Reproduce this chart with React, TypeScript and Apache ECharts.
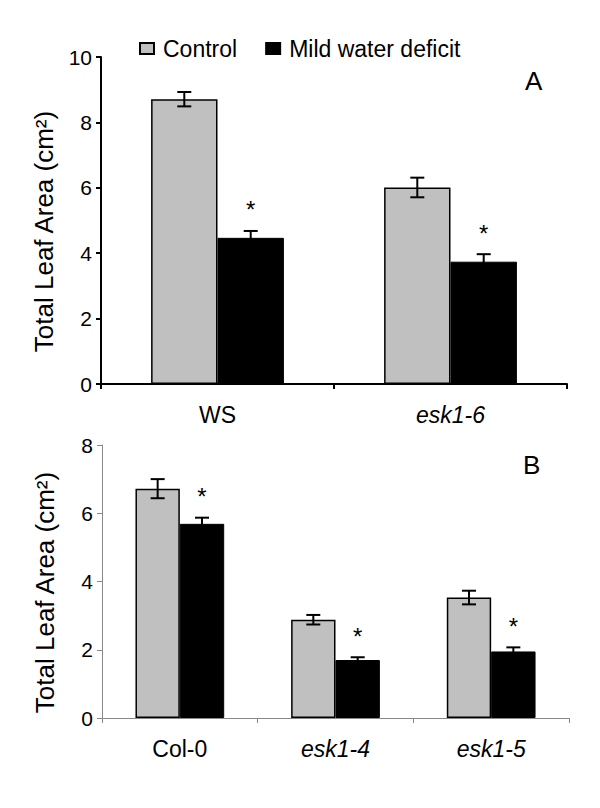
import React, { useEffect, useRef } from "react";
import * as echarts from "echarts";

const catsA = ["WS", "esk1-6"];
const controlA = [8.71, 6.01];
const controlErrA = [0.22, 0.3];
const deficitA = [4.47, 3.74];
const deficitErrA = [0.21, 0.23];
const sigA = [1, 1];

const catsB = ["Col-0", "esk1-4", "esk1-5"];
const controlB = [6.72, 2.88, 3.53];
const controlErrB = [0.28, 0.14, 0.2];
const deficitB = [5.69, 1.7, 1.95];
const deficitErrB = [0.18, 0.08, 0.12];
const sigB = [1, 1, 1];

const italicCats = ["esk1-6", "esk1-4", "esk1-5"];
const FONT = "Liberation Sans, Arial, Helvetica, sans-serif";
const BAR_FRAC = 0.285;

function errSeries(name: string, xIdx: number, vals: number[], errs: number[], sig: number[] | null, side: number) {
  return {
    name,
    type: "custom",
    xAxisIndex: xIdx,
    yAxisIndex: xIdx,
    z: 5,
    silent: true,
    data: vals.map((v, i) => [i, v, errs[i], sig ? sig[i] : 0]),
    renderItem: (params: any, api: any) => {
      const x = api.value(0);
      const v = api.value(1);
      const e = api.value(2);
      const s = api.value(3);
      const c = api.coord([x, v]);
      const catW = api.size([1, 0])[0];
      const bw = catW * BAR_FRAC;
      const cx = c[0] + side * bw / 2;
      const top = api.coord([x, v + e])[1];
      const bot = api.coord([x, v - e])[1];
      const hw = 7;
      const st = { stroke: "#000", lineWidth: 2 };
      const children: any[] = [
        { type: "line", shape: { x1: cx, y1: top, x2: cx, y2: bot }, style: st },
        { type: "line", shape: { x1: cx - hw, y1: top, x2: cx + hw, y2: top }, style: st },
        { type: "line", shape: { x1: cx - hw, y1: bot, x2: cx + hw, y2: bot }, style: st },
      ];
      if (s) {
        children.push({
          type: "text",
          style: {
            text: "*",
            x: cx,
            y: top - 9,
            fill: "#000",
            font: `24px ${FONT}`,
            textAlign: "center",
            textVerticalAlign: "bottom",
          },
        });
      }
      return { type: "group", children };
    },
  };
}

function xAxisCfg(cats: string[], gridIndex: number, color: string, width: number) {
  return {
    type: "category",
    gridIndex,
    data: cats,
    axisLine: { show: true, lineStyle: { color, width } },
    axisTick: { show: true, length: 5, lineStyle: { color, width } },
    axisLabel: {
      margin: 19,
      fontSize: 23,
      color: "#000",
      fontFamily: FONT,
      formatter: (v: string) => (italicCats.includes(v) ? `{i|${v}}` : v),
      rich: { i: { fontStyle: "italic", fontSize: 23, color: "#000", fontFamily: FONT } },
    },
  };
}

function yAxisCfg(gridIndex: number, max: number, color: string, width: number) {
  return {
    type: "value",
    gridIndex,
    min: 0,
    max,
    interval: 2,
    name: "Total Leaf Area (cm²)",
    nameLocation: "middle",
    nameGap: 44,
    nameTextStyle: { fontSize: 26, color: "#000", fontFamily: FONT, padding: [0, 22, 0, 0] },
    axisLine: { show: true, lineStyle: { color, width } },
    axisTick: { show: true, length: 5, lineStyle: { color, width } },
    axisLabel: { margin: 9, fontSize: 21, color: "#000", fontFamily: FONT },
    splitLine: { show: false },
  };
}

export default function App() {
  const ref = useRef<HTMLDivElement>(null);
  useEffect(() => {
    const chart = echarts.init(ref.current!, null, { renderer: "svg" });
    const barCommon = { barWidth: `${BAR_FRAC * 100}%`, barGap: "0%" };
    chart.setOption({
      animation: false,
      backgroundColor: "#fff",
      textStyle: { fontFamily: FONT },
      legend: {
        top: 32,
        left: 134,
        itemWidth: 14,
        itemHeight: 11,
        itemGap: 28,
        textStyle: { fontSize: 23, color: "#000", fontFamily: FONT, padding: [0, 0, 0, 4] },
        data: [
          { name: "Control", icon: "rect" },
          { name: "Mild water deficit", icon: "rect" },
        ],
      },
      grid: [
        { left: 101, right: 33, top: 57, height: 327 },
        { left: 102, right: 31, top: 445, height: 273 },
      ],
      xAxis: [xAxisCfg(catsA, 0, "#000", 2), xAxisCfg(catsB, 1, "#888", 1)],
      yAxis: [yAxisCfg(0, 10, "#000", 2), yAxisCfg(1, 8, "#888", 1)],
      graphic: [
        { type: "text", left: 525, top: 68, style: { text: "A", font: `26px ${FONT}`, fill: "#000" } },
        { type: "text", left: 523, top: 452, style: { text: "B", font: `26px ${FONT}`, fill: "#000" } },
      ],
      series: [
        {
          name: "Control", type: "bar", xAxisIndex: 0, yAxisIndex: 0, data: controlA, ...barCommon,
          itemStyle: { color: "#c0c0c0", borderColor: "#000", borderWidth: 1.5 },
        },
        {
          name: "Mild water deficit", type: "bar", xAxisIndex: 0, yAxisIndex: 0, data: deficitA, ...barCommon,
          itemStyle: { color: "#000", borderColor: "#000", borderWidth: 1 },
        },
        {
          name: "Control", type: "bar", xAxisIndex: 1, yAxisIndex: 1, data: controlB, ...barCommon,
          itemStyle: { color: "#c0c0c0", borderColor: "#000", borderWidth: 1.5 },
        },
        {
          name: "Mild water deficit", type: "bar", xAxisIndex: 1, yAxisIndex: 1, data: deficitB, ...barCommon,
          itemStyle: { color: "#000", borderColor: "#000", borderWidth: 1 },
        },
        errSeries("errCA", 0, controlA, controlErrA, null, -1),
        errSeries("errDA", 0, deficitA, deficitErrA, sigA, 1),
        errSeries("errCB", 1, controlB, controlErrB, null, -1),
        errSeries("errDB", 1, deficitB, deficitErrB, sigB, 1),
      ],
    });
    return () => chart.dispose();
  }, []);
  return (
    <div
      ref={ref}
      style={{ position: "absolute", left: 0, top: 0, width: 600, height: 808, background: "#fff" }}
    />
  );
}
